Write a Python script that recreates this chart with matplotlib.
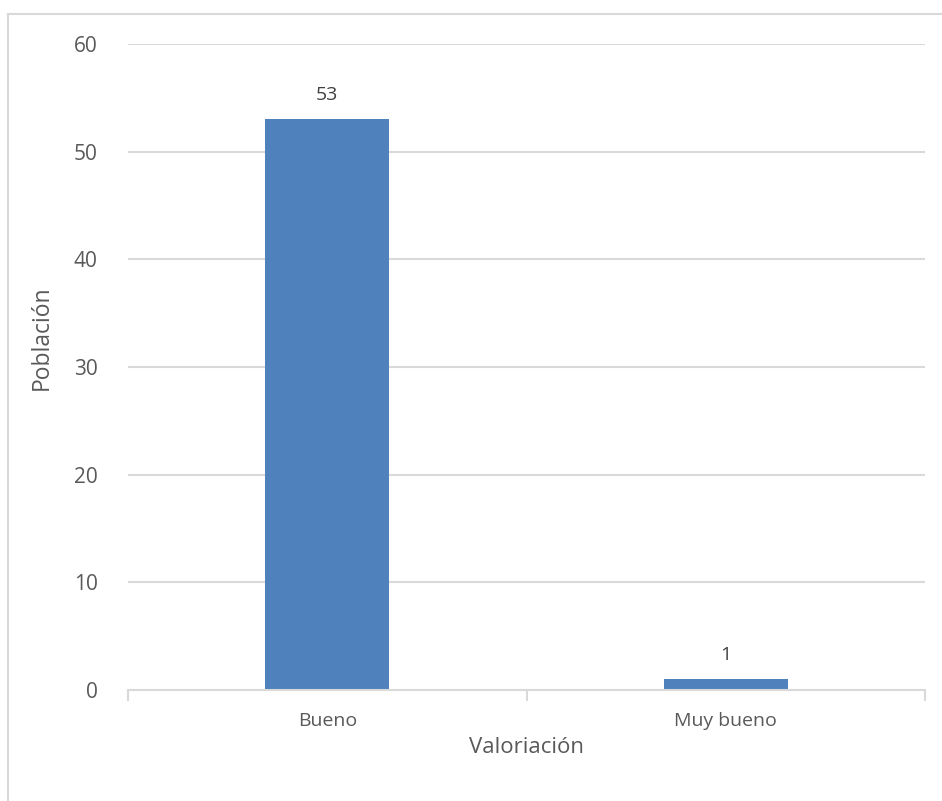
import numpy as np
import matplotlib.pyplot as plt
from matplotlib.lines import Line2D

categorias = ["Bueno", "Muy bueno"]
poblacion = [53, 1]
y_ticks = [0, 10, 20, 30, 40, 50, 60]

plt.rcParams['font.family'] = ['Open Sans', 'DejaVu Sans']

fig = plt.figure(figsize=(9.42, 8.01), dpi=100)
ax = fig.add_axes([128/942, 1 - 690/801, (925 - 128)/942, (690 - 44)/801])

x = np.arange(len(categorias))
barras = ax.bar(x, poblacion, width=0.31, color="#4f81bd", zorder=3)

# etiquetas de datos
for b, v in zip(barras, poblacion):
    ax.annotate(str(v), (b.get_x() + b.get_width() / 2, v), xytext=(0, 11),
                textcoords="offset points", ha="center", va="bottom",
                fontsize=14, color="#404040")

ax.set_ylim(0, 60)
ax.set_yticks(y_ticks)
ax.set_xlim(-0.5, len(categorias) - 0.5)
ax.set_xticks(x)
ax.set_xticklabels(categorias)
ax.set_xticks(np.arange(-0.5, len(categorias)), minor=True)

ax.grid(axis="y", color="#d9d9d9", linewidth=1.5, zorder=0)
for s in ["top", "right", "left"]:
    ax.spines[s].set_visible(False)
ax.spines["bottom"].set_color("#d9d9d9")
ax.spines["bottom"].set_linewidth(1.5)
ax.spines["bottom"].set_zorder(4)

ax.tick_params(axis="y", length=0, pad=22, labelsize=15, labelcolor="#595959")
ax.tick_params(axis="x", which="major", length=0, pad=16, labelsize=14,
               labelcolor="#595959")
ax.tick_params(axis="x", which="minor", length=8, width=1.5, color="#d9d9d9")

ax.set_xlabel("Valoriación", fontsize=16, color="#595959")
ax.xaxis.set_label_coords(0.5, -47/646)
ax.set_ylabel("Población", fontsize=16.5, color="#595959")
ax.yaxis.set_label_coords(-74/797, 0.545)

# borde del gráfico
fig.add_artist(Line2D([8/942, 8/942], [0, 1 - 14/801], transform=fig.transFigure,
                      color="#d9d9d9", linewidth=1.5))
fig.add_artist(Line2D([8/942, 1], [1 - 14/801, 1 - 14/801], transform=fig.transFigure,
                      color="#d9d9d9", linewidth=1.5))

fig.savefig("out.png", dpi=100)
